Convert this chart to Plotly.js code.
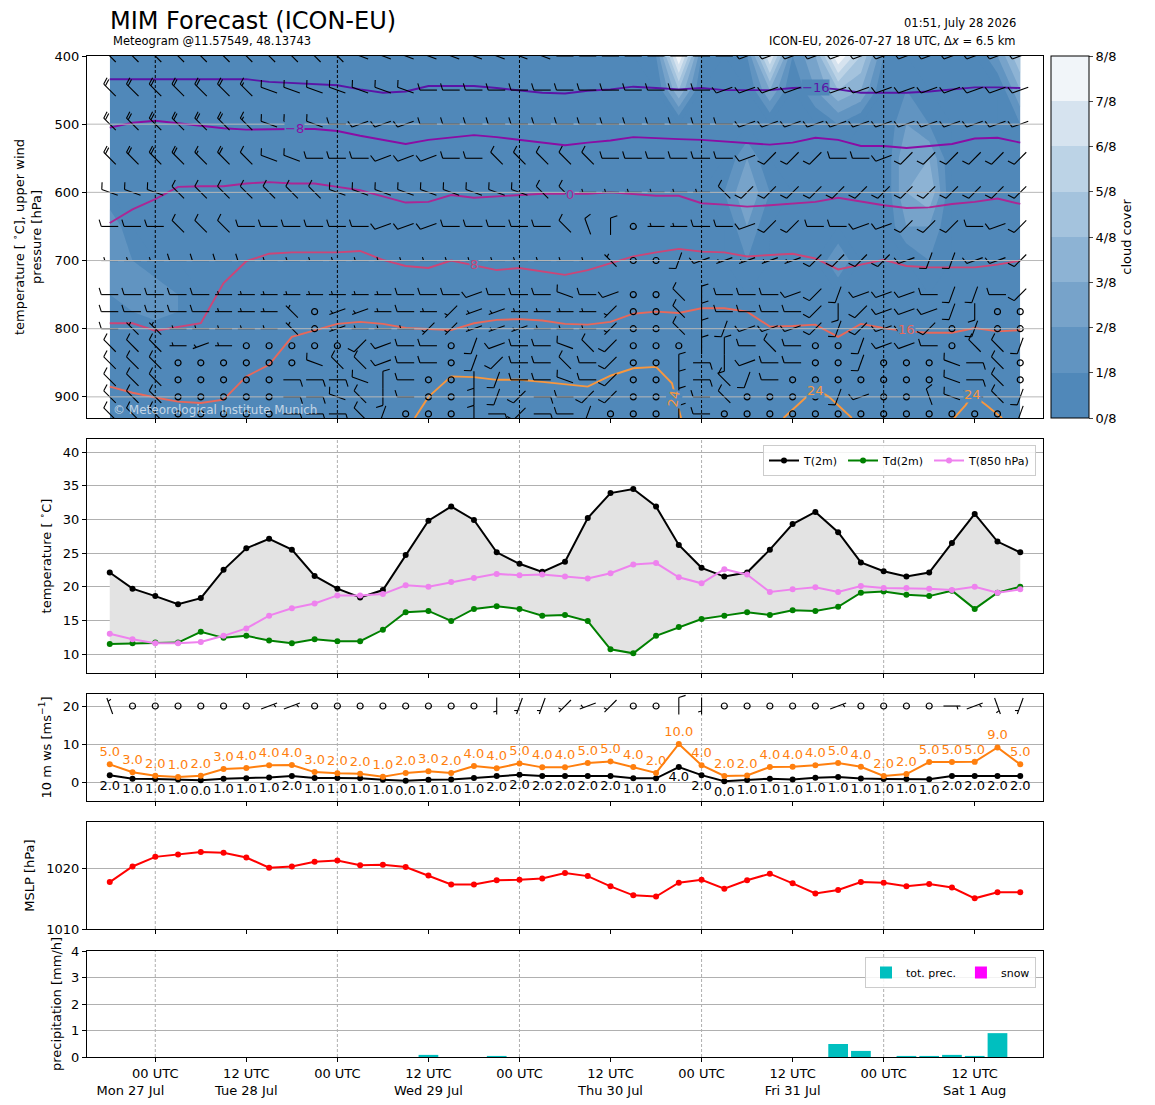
<!DOCTYPE html>
<html>
<head>
<meta charset="utf-8">
<script src="https://cdn.plot.ly/plotly-3.0.1.min.js"></script>
<style>body{margin:0;background:#fff}#chart{width:1155px;height:1105px}</style>
</head>
<body>
<div id="chart"></div>
<script>
// ---------------- DATA ----------------
const RUN_START = Date.UTC(2026, 6, 27, 18);   // first forecast step (ICON-EU 2026-07-27 18 UTC)
const STEP_MS = 3 * 3600 * 1000;                // 3-hourly output
const N_STEPS = 41;

// x tick positions / labels (every 12 h)
const tickTimes = ['2026-07-28 00:00','2026-07-28 12:00','2026-07-29 00:00','2026-07-29 12:00',
  '2026-07-30 00:00','2026-07-30 12:00','2026-07-31 00:00','2026-07-31 12:00','2026-08-01 00:00','2026-08-01 12:00'];
const tickText = ['00 UTC<br>Mon 27 Jul' + '\u00a0'.repeat(12),'12 UTC<br>Tue 28 Jul','00 UTC','12 UTC<br>Wed 29 Jul',
  '00 UTC','12 UTC<br>Thu 30 Jul','00 UTC','12 UTC<br>Fri 31 Jul','00 UTC','12 UTC<br>Sat 1 Aug'];
const dayStarts = ['2026-07-28 00:00','2026-07-29 00:00','2026-07-30 00:00','2026-07-31 00:00','2026-08-01 00:00'];

// 2 m temperature, dew point, 850 hPa temperature [deg C]
const t2m  = [22.1,19.7,18.6,17.4,18.3,22.5,25.7,27.1,25.5,21.6,19.7,18.4,19.5,24.7,29.8,31.9,29.9,25.1,23.4,22.2,
              23.7,30.2,33.9,34.5,31.9,26.2,22.8,21.5,22.1,25.5,29.3,31.1,28.1,23.6,22.3,21.5,22.1,26.5,30.8,26.7,25.1];
const td2m = [11.5,11.6,11.7,11.7,13.3,12.4,12.7,12.0,11.6,12.2,11.9,11.9,13.6,16.2,16.4,14.9,16.7,17.1,16.7,15.7,
              15.8,14.9,10.7,10.1,12.7,14.0,15.2,15.7,16.2,15.8,16.5,16.4,17.0,19.1,19.3,18.8,18.6,19.4,16.7,19.1,20.0];
const t850 = [13.0,12.2,11.6,11.6,11.8,12.7,13.8,15.7,16.8,17.5,18.7,18.7,18.9,20.2,20.0,20.7,21.3,21.9,21.7,21.8,
              21.5,21.2,22.0,23.3,23.5,21.4,20.5,22.6,21.8,19.2,19.6,19.9,19.2,20.1,19.8,19.8,19.7,19.5,20.0,19.1,19.6];

// 10 m wind: gusts and mean speed [m/s]
const gust10 = [4.65,2.55,1.67,1.3,1.67,3.4,3.7,4.4,4.45,2.6,2.3,2.2,1.4,2.4,2.8,2.4,4.2,3.6,4.9,3.85,
                3.85,5.0,5.4,3.95,2.4,10.0,4.4,1.6,1.7,3.95,4.0,4.4,5.0,4.0,1.6,2.1,5.25,5.25,5.3,9.1,4.65];
const ws10   = [1.75,0.88,0.8,0.65,0.45,0.88,0.97,1.2,1.6,1.05,1.05,0.97,0.6,0.3,0.6,0.65,1.05,1.55,1.9,1.6,
                1.6,1.6,1.6,0.97,0.97,3.95,1.8,0.2,0.55,0.88,0.65,1.1,1.3,0.9,0.8,0.8,0.7,1.6,1.6,1.6,1.6];
// 10 m wind direction code per step (o = calm) and barb class (1 half, 2 full ...)
const dir10 = "hoooooojjo"+"oooooooSgg"+"cecooNSooo"+"oojooooEjk"+"g";
const spd10 = "1111111111"+"1111111111"+"1111121111"+"1111111111"+"1";

// mean sea level pressure [hPa]
const mslp = [1017.8,1020.4,1022.0,1022.4,1022.8,1022.7,1021.9,1020.2,1020.4,1021.2,1021.4,1020.6,1020.7,1020.3,
              1018.9,1017.4,1017.4,1018.1,1018.2,1018.4,1019.3,1018.8,1017.1,1015.6,1015.4,1017.7,1018.2,1016.7,
              1018.1,1019.2,1017.6,1015.9,1016.5,1017.8,1017.7,1017.1,1017.5,1016.9,1015.1,1016.1,1016.1];

// precipitation [mm/h]
const precip = [0,0,0,0,0,0,0,0,0,0, 0,0,0,0,0.08,0,0,0.04,0,0, 0,0,0,0,0,0,0,0,0,0,
                0,0,0.49,0.23,0,0.04,0.04,0.08,0.04,0.9, 0];
const snow   = [0,0,0,0,0,0,0,0,0,0, 0,0,0,0,0,0,0,0,0,0, 0,0,0,0,0,0,0,0,0,0,
                0,0,0,0,0,0,0,0,0,0, 0];

// upper-air wind barbs: pressure levels, direction codes (o = calm), barb classes
const barbLevels = [400,450,500,550,600,650,700,750,775,800,825,850,875,900,925];
const barbDirs = [
  "dddddddddd"+"dfffffffff"+"WWWWWWWWee"+"eeeeeeeeee"+"e",
  "dddddddfff"+"ffffWWWWWW"+"WWWWWWWeee"+"eeeeeeeeee"+"e",
  "dddddddfff"+"WeeeWWWWWW"+"WWWWWWWWee"+"eeeeeeeeee"+"e",
  "dddddddffW"+"WWeeeWWddd"+"ddWWWWWWec"+"ccWWeccccc"+"c",
  "fffddddddd"+"fffffffffd"+"dWWWWWWdcc"+"cccccccccc"+"c",
  "WWWdddWWWW"+"WWeeeWWWWW"+"dhNoWWWWec"+"cWWeecccWe"+"c",
  "WWWWWWWWWW"+"WWWWWWWWWW"+"WWdoogeeee"+"ecccceggee"+"c",
  "WWWWWWWWWW"+"WWWWWWeWWW"+"fWeoodNWWW"+"ecgeeeWggW"+"c",
  "WWWWWWWWdo"+"eeWWWceeWW"+"WWcoodNWWW"+"WcSceeegSo"+"o",
  "WddWWWWWdo"+"eWWWcceeeW"+"WWcoodNgee"+"ecgceecogo"+"o",
  "dddWeWoooo"+"oceWWogeWW"+"fdcoooNNWd"+"WoogeeWodd"+"g",
  "dddoooooof"+"ddeWWogcWW"+"dWcooNESeW"+"WoogooofEd"+"o",
  "dddoooooEE"+"EfNWooSgWW"+"fWcooNEdgW"+"ooooooofEd"+"o",
  "dddoooooEE"+"fdSWooSgcE"+"WccooNWdoo"+"oogeoohfWd"+"g",
  "dddoooooEE"+"EdgoooSEcE"+"WgoooNWooo"+"oooooooooo"+"g"
];
const barbSpeeds = [
  "4444444444"+"4222222222"+"2222222222"+"2222222222"+"2",
  "4444443222"+"2222222222"+"2222222222"+"2222222222"+"2",
  "4444443222"+"2222222222"+"2222222222"+"2222222222"+"2",
  "4444342222"+"2222222222"+"2222222222"+"2222222222"+"2",
  "2222222222"+"2222222222"+"2111111222"+"2222222222"+"2",
  "2222222222"+"2222222222"+"2222112222"+"2222222222"+"2",
  "1112222111"+"1111111111"+"1110022111"+"1222222222"+"2",
  "2222211111"+"1112222222"+"2220022222"+"2222222222"+"2",
  "2222211110"+"1112111111"+"1110022222"+"2222222220"+"0",
  "2111111110"+"1111111111"+"1110022222"+"2222222222"+"2",
  "2221112222"+"2222222222"+"2222222222"+"2222222222"+"2",
  "2222222222"+"2222222222"+"2222222222"+"2222222222"+"2",
  "2222222222"+"2222222222"+"2222222222"+"2222222222"+"2",
  "2222222222"+"2222222222"+"2222222222"+"2222222222"+"2",
  "2222222222"+"2222222222"+"2222222222"+"2222222222"+"2"
];
const dirDegrees = {N:0,l:20,a:45,j:70,E:90,i:110,b:135,k:160,S:180,g:200,c:225,e:250,W:270,f:290,d:315,h:340};

// cloud cover in eighths (one string per level, one digit per time step)
const cloudLevels = [400,450,500,550,600,650,700,750,775,800,825,850,875,900,925,950];
const cloudRows = [
  "0000000000"+"0000000000"+"0000181017"+"1385100002"+"5",
  "0000000000"+"0000000000"+"0000040003"+"0243010000"+"3",
  "0000000000"+"0000000000"+"0000000000"+"0010021000"+"1",
  "0000000000"+"0000000000"+"0000000020"+"0000033000"+"0",
  "0000000000"+"0000000000"+"0000000131"+"0000034000"+"0",
  "2000000000"+"0000000000"+"0000000020"+"0000022000"+"0",
  "2100000000"+"0000000000"+"0000000010"+"0020001000"+"0",
  "1221000000"+"0000000000"+"0000000000"+"0000000000"+"0",
  "0121100000"+"0000000000"+"0000000000"+"0000000000"+"0",
  "0000000000"+"0000000000"+"0000000000"+"0000000000"+"0",
  "0000000000"+"0000000000"+"0000000000"+"0000000000"+"0",
  "0000000000"+"0000000000"+"0000000000"+"0000000000"+"0",
  "0000000000"+"0000000000"+"0000000000"+"0000000000"+"0",
  "0000000000"+"0000000000"+"0000000000"+"0000000000"+"0",
  "0000000000"+"0000000000"+"0000000000"+"0000000000"+"0",
  "0000000000"+"0000000000"+"0000000000"+"0000000000"+"0"
];
const cloudTickText = ['0/8','1/8','2/8','3/8','4/8','5/8','6/8','7/8','8/8'];

// isotherms: pressure [hPa] of each isotherm at every time step
const isoValues = [-16, -8, 0, 8, 16, 24];
const isoM16 = [434,434,434,434,434,434,434,438,440,441,443,449,454,452,444,444,444,447,451,454,
                455,451,449,445,447,449,447,450,450,450,447,446,449,454,454,454,452,449,446,446,447];
const isoM8  = [505,498,495,499,503,506,508,507,507,507,510,517,523,529,523,519,516,519,523,527,
                531,527,524,519,521,522,523,525,528,530,527,520,523,532,532,535,532,529,521,520,527];
const iso0   = [645,625,610,592,591,591,587,585,587,587,592,597,606,615,614,604,608,606,605,602,
                602,602,600,602,605,605,616,618,621,619,616,614,608,614,619,623,622,617,614,609,617];
const iso8   = [792,792,803,797,792,733,701,690,688,688,688,686,699,708,711,700,707,714,711,716,
                721,714,704,694,688,683,687,688,694,692,690,697,713,706,699,708,710,710,710,706,700];
const iso16  = [885,894,901,907,909,904,870,853,812,803,793,790,793,799,801,802,792,787,786,788,
                793,794,790,778,775,777,770,770,775,797,796,794,812,793,799,804,806,806,799,804,802];
// 24 degC isotherm: three separate pieces (hours after run start / pressure)
const iso24Hours = [40.2,42,45,48,51,54,57,60,63,66,69,72,74.1,75.3,null,88.8,91.5,93.0,94.8,97.8,null,111.3,112.8,113.7,115.5,117.6];
const iso24P     = [931,900,870,871,875,875,878,882,885,869,858,856,880,931,null,931,904,888,900,931,null,931,912,897,912,931];

// ---------------- STYLE / LAYOUT GEOMETRY ----------------
const FIG_W = 1155, FIG_H = 1105;
const M = {l: 87, r: 112, t: 56, b: 48};
const plotW = FIG_W - M.l - M.r, plotH = FIG_H - M.t - M.b;
const panelTop = [56, 439, 694, 822, 951];
const panelBot = [418, 673, 801, 929, 1057];
const dom = i => [(FIG_H - M.b - panelBot[i]) / plotH, (FIG_H - M.b - panelTop[i]) / plotH];
const pxX = px => (px - M.l) / plotW;
const pxY = py => (FIG_H - M.b - py) / plotH;

const isoColors = ['#5b14a6', '#8a0da4', '#ac2694', '#cc4577', '#e8685a', '#f8973e'];
const CLOUD_COLORS = ['#5088b9','#6194c1','#77a3ca','#8db3d4','#a4c3dd','#bcd3e6','#d6e3ef','#f1f5f9'];
const PANEL_BG = CLOUD_COLORS[0];

const times = [];
for (let i = 0; i < N_STEPS; i++) times.push(RUN_START + i * STEP_MS);
const hToMs = h => RUN_START + h * 3600 * 1000;
const xRange = [times[0] - STEP_MS, times[N_STEPS - 1] + STEP_MS];

const topRange = [931, 400];
const tRange = [7.18, 41.93];
const wRange = [-5, 23.16];
const pRange = [1010, 1027.8];
const rRange = [0, 4];

// ---------------- WIND BARB GEOMETRY (screen-pixel based) ----------------
const msPerPx = (xRange[1] - xRange[0]) / plotW;
const topPerPxDown = (topRange[0] - topRange[1]) / (panelBot[0] - panelTop[0]);
const windPerPxDown = -(wRange[1] - wRange[0]) / (panelBot[2] - panelTop[2]);
const BARB_L = 17;

function addBarb(xs, ys, cx, cy, dirCh, spdCh, yPerPxDown) {
  const r = dirDegrees[dirCh] * Math.PI / 180;
  const ux = Math.sin(r), uy = -Math.cos(r);   // toward wind source, screen coords
  const qx = -uy, qy = ux;                     // clockwise side for feathers
  const pt = (sx, sy) => { xs.push(cx + sx * msPerPx); ys.push(cy + sy * yPerPxDown); };
  const seg = (a, b) => { pt(a[0], a[1]); pt(b[0], b[1]); xs.push(null); ys.push(null); };
  const L = BARB_L;
  const tip = [ux * L / 2, uy * L / 2];
  seg([-ux * L / 2, -uy * L / 2], tip);
  const spd = parseInt(spdCh, 10) || 0;
  const nFull = Math.floor(spd / 2), half = spd % 2;
  const Hf = 0.4 * L, Wf = 0.25 * L, Sp = 0.14 * L;
  let pos = 0;
  for (let k = 0; k < nFull; k++) {
    const s = [tip[0] - ux * pos, tip[1] - uy * pos];
    seg(s, [s[0] + qx * Hf + ux * Wf / 2, s[1] + qy * Hf + uy * Wf / 2]);
    pos += Sp;
  }
  if (half) {
    if (nFull === 0) pos = 1.5 * Sp;
    const s = [tip[0] - ux * pos, tip[1] - uy * pos];
    seg(s, [s[0] + qx * Hf / 2 + ux * Wf / 4, s[1] + qy * Hf / 2 + uy * Wf / 4]);
  }
}

const topBarbX = [], topBarbY = [], topCalmX = [], topCalmY = [];
barbLevels.forEach((p, li) => {
  const ds = barbDirs[li], ss = barbSpeeds[li];
  for (let i = 0; i < N_STEPS; i++) {
    const ch = ds[i];
    if (!ch) continue;
    if (ch === 'o') { topCalmX.push(times[i]); topCalmY.push(p); }
    else addBarb(topBarbX, topBarbY, times[i], p, ch, ss[i], topPerPxDown);
  }
});
const BARB_Y10 = 20;
const wBarbX = [], wBarbY = [], wCalmX = [], wCalmY = [];
for (let i = 0; i < N_STEPS; i++) {
  const ch = dir10[i];
  if (ch === 'o') { wCalmX.push(times[i]); wCalmY.push(BARB_Y10); }
  else addBarb(wBarbX, wBarbY, times[i], BARB_Y10, ch, spd10[i], windPerPxDown);
}

// ---------------- TRACES ----------------
const cloudZ = cloudRows.map(s => s.split('').map(Number));
const contourScale = [[0, CLOUD_COLORS[0]]];
CLOUD_COLORS.forEach((c, k) => contourScale.push([(k + 1) / 9, c]));
contourScale.push([1, CLOUD_COLORS[7]]);
const stepScale = [];
CLOUD_COLORS.forEach((c, k) => { stepScale.push([k / 8, c]); stepScale.push([(k + 1) / 8, c]); });

const traces = [];
traces.push({
  type: 'contour', x: times, y: cloudLevels, z: cloudZ, xaxis: 'x', yaxis: 'y',
  autocontour: false, contours: {start: 0, end: 8, size: 1, coloring: 'fill', showlines: false},
  line: {width: 0, smoothing: 0}, colorscale: contourScale, showscale: false, hoverinfo: 'skip', showlegend: false
});
traces.push({
  type: 'scatter', mode: 'markers', x: [times[0]], y: [400], xaxis: 'x', yaxis: 'y', hoverinfo: 'skip', showlegend: false,
  marker: {size: 1, opacity: 0, color: [0], cmin: 0, cmax: 8, colorscale: stepScale, showscale: true,
    colorbar: {x: pxX(1051), xanchor: 'left', y: 1, yanchor: 'top', len: (panelBot[0] - panelTop[0]) / plotH, lenmode: 'fraction',
      thickness: 38, thicknessmode: 'pixels', outlinewidth: 1, outlinecolor: '#000', xpad: 0, ypad: 0,
      tickmode: 'array', tickvals: [0,1,2,3,4,5,6,7,8], ticktext: cloudTickText, ticks: 'outside', ticklen: 4,
      tickfont: {size: 13, color: '#000'}, title: {text: 'cloud cover', side: 'right', font: {size: 13, color: '#000'}}}}
});
[isoM16, isoM8, iso0, iso8, iso16].forEach((arr, k) => {
  traces.push({type: 'scatter', mode: 'lines', x: times, y: arr, xaxis: 'x', yaxis: 'y',
    line: {color: isoColors[k], width: 1.9}, hoverinfo: 'skip', showlegend: false});
});
traces.push({type: 'scatter', mode: 'lines', x: iso24Hours.map(h => h === null ? null : hToMs(h)), y: iso24P,
  xaxis: 'x', yaxis: 'y', line: {color: isoColors[5], width: 1.9}, hoverinfo: 'skip', showlegend: false, connectgaps: false});
traces.push({type: 'scatter', mode: 'lines', x: topBarbX, y: topBarbY, xaxis: 'x', yaxis: 'y',
  line: {color: '#000', width: 1.1}, hoverinfo: 'skip', showlegend: false, connectgaps: false});
traces.push({type: 'scatter', mode: 'markers', x: topCalmX, y: topCalmY, xaxis: 'x', yaxis: 'y',
  marker: {symbol: 'circle-open', size: 6, color: '#000', line: {width: 1.2}}, hoverinfo: 'skip', showlegend: false});

// temperature panel
traces.push({type: 'scatter', mode: 'lines', x: times, y: td2m, xaxis: 'x2', yaxis: 'y2', line: {width: 0},
  hoverinfo: 'skip', showlegend: false});
traces.push({type: 'scatter', mode: 'lines', x: times, y: t2m, xaxis: 'x2', yaxis: 'y2', line: {width: 0},
  fill: 'tonexty', fillcolor: '#e3e3e3', hoverinfo: 'skip', showlegend: false});
const tSeries = [[t2m, '#000000', 'T(2m)'], [td2m, '#008000', 'Td(2m)'], [t850, '#ee82ee', 'T(850 hPa)']];
tSeries.forEach(([arr, col, name]) => traces.push({
  type: 'scatter', mode: 'lines+markers', x: times, y: arr, xaxis: 'x2', yaxis: 'y2', name: name, legend: 'legend',
  line: {color: col, width: 2}, marker: {color: col, size: 6}, hoverinfo: 'skip'}));

// wind panel
traces.push({type: 'scatter', mode: 'lines+markers+text', x: times, y: ws10, xaxis: 'x3', yaxis: 'y3',
  text: ws10.map(v => Math.round(v).toFixed(1)), textposition: 'bottom center',
  textfont: {size: 13, color: '#000'}, line: {color: '#000', width: 2}, marker: {color: '#000', size: 6},
  hoverinfo: 'skip', showlegend: false, cliponaxis: false});
traces.push({type: 'scatter', mode: 'lines+markers+text', x: times, y: gust10, xaxis: 'x3', yaxis: 'y3',
  text: gust10.map(v => Math.round(v).toFixed(1)), textposition: 'top center',
  textfont: {size: 13, color: '#ff7f0e'}, line: {color: '#ff7f0e', width: 2}, marker: {color: '#ff7f0e', size: 6},
  hoverinfo: 'skip', showlegend: false, cliponaxis: false});
traces.push({type: 'scatter', mode: 'lines', x: wBarbX, y: wBarbY, xaxis: 'x3', yaxis: 'y3',
  line: {color: '#000', width: 1.1}, hoverinfo: 'skip', showlegend: false, connectgaps: false});
traces.push({type: 'scatter', mode: 'markers', x: wCalmX, y: wCalmY, xaxis: 'x3', yaxis: 'y3',
  marker: {symbol: 'circle-open', size: 6, color: '#000', line: {width: 1.2}}, hoverinfo: 'skip', showlegend: false});

// MSLP panel
traces.push({type: 'scatter', mode: 'lines+markers', x: times, y: mslp, xaxis: 'x4', yaxis: 'y4',
  line: {color: '#ff0000', width: 2}, marker: {color: '#ff0000', size: 6}, hoverinfo: 'skip', showlegend: false});

// precipitation panel
traces.push({type: 'bar', x: times, y: precip, xaxis: 'x5', yaxis: 'y5', name: 'tot. prec.', legend: 'legend2',
  width: 2.6 * 3600 * 1000, marker: {color: '#00bfbf'}, hoverinfo: 'skip'});
traces.push({type: 'bar', x: times, y: snow, xaxis: 'x5', yaxis: 'y5', name: 'snow', legend: 'legend2',
  width: 2.6 * 3600 * 1000, marker: {color: '#ff00ff'}, hoverinfo: 'skip'});

// ---------------- LAYOUT ----------------
const axBase = {showline: true, linecolor: '#000', linewidth: 1, mirror: true, ticks: 'outside', ticklen: 4,
  tickcolor: '#000', zeroline: false, tickfont: {size: 13, color: '#000'}};
const layout = {
  width: FIG_W, height: FIG_H, margin: M, paper_bgcolor: '#fff', plot_bgcolor: '#fff',
  font: {family: 'DejaVu Sans, sans-serif', size: 13, color: '#000'},
  hovermode: false, barmode: 'overlay', showlegend: true,
  title: {text: 'MIM Forecast (ICON-EU)', font: {size: 24, color: '#000'}, xref: 'container', yref: 'container',
    x: 110 / FIG_W, xanchor: 'left', y: 1 - 21 / FIG_H, yanchor: 'middle'},
  legend: {x: pxX(1036), xanchor: 'right', y: pxY(445), yanchor: 'top', orientation: 'h', traceorder: 'normal',
    bgcolor: 'rgba(255,255,255,0.85)', bordercolor: '#cccccc', borderwidth: 1, font: {size: 11}, itemwidth: 30},
  legend2: {x: pxX(1036), xanchor: 'right', y: pxY(957), yanchor: 'top', orientation: 'h', traceorder: 'normal',
    bgcolor: 'rgba(255,255,255,0.85)', bordercolor: '#cccccc', borderwidth: 1, font: {size: 11}, itemwidth: 30},
  annotations: [], shapes: []
};
for (let i = 1; i <= 5; i++) {
  const xs = i === 1 ? 'xaxis' : 'xaxis' + i;
  layout[xs] = Object.assign({}, axBase, {type: 'date', range: xRange, domain: [0, 1], anchor: i === 1 ? 'y' : 'y' + i,
    tickmode: 'array', tickvals: tickTimes, ticktext: tickText, tickangle: 0, showticklabels: i === 5, showgrid: false});
}
const ttl = (t, so) => ({text: t, standoff: so, font: {size: 13, color: '#000'}});
layout.yaxis  = Object.assign({}, axBase, {domain: dom(0), range: topRange, anchor: 'x', tickmode: 'array',
  tickvals: [400,500,600,700,800,900], showgrid: false,
  title: ttl('temperature [ <sup>∘</sup>C], upper wind<br>pressure [hPa]', 10)});
layout.yaxis2 = Object.assign({}, axBase, {domain: dom(1), range: tRange, anchor: 'x2', tickmode: 'array',
  tickvals: [10,15,20,25,30,35,40], showgrid: true, gridcolor: '#b0b0b0', gridwidth: 1, title: ttl('temperature [ <sup>∘</sup>C]', 8)});
layout.yaxis3 = Object.assign({}, axBase, {domain: dom(2), range: wRange, anchor: 'x3', tickmode: 'array',
  tickvals: [0,10,20], showgrid: true, gridcolor: '#b0b0b0', gridwidth: 1, title: ttl('10 m ws [ms<sup>−1</sup>]', 8)});
layout.yaxis4 = Object.assign({}, axBase, {domain: dom(3), range: pRange, anchor: 'x4', tickmode: 'array',
  tickvals: [1010,1020], showgrid: true, gridcolor: '#b0b0b0', gridwidth: 1, title: ttl('MSLP [hPa]', 8)});
layout.yaxis5 = Object.assign({}, axBase, {domain: dom(4), range: rRange, anchor: 'x5', tickmode: 'array',
  tickvals: [0,1,2,3,4], showgrid: true, gridcolor: '#b0b0b0', gridwidth: 1, title: ttl('precipitation [mm/h]', 6)});

// vertical day lines
for (let i = 1; i <= 5; i++) {
  dayStarts.forEach(d => layout.shapes.push({type: 'line', xref: i === 1 ? 'x' : 'x' + i, yref: (i === 1 ? 'y' : 'y' + i) + ' domain',
    x0: d, x1: d, y0: 0, y1: 1, layer: i === 1 ? 'above' : 'below',
    line: i === 1 ? {color: '#000', width: 1, dash: '3px,2px'} : {color: '#9a9a9a', width: 0.8, dash: '3px,2px'}}));
}
// grid lines above the cloud field in the top panel
layout.yaxis.tickvals.slice(1).forEach(p => layout.shapes.push({type: 'line', xref: 'x domain', yref: 'y',
  x0: 0, x1: 1, y0: p, y1: p, layer: 'above', line: {color: '#b8b8b8', width: 1}}));

// texts
layout.annotations.push(
  {xref: 'paper', yref: 'paper', x: pxX(111), y: pxY(41), xanchor: 'left', yanchor: 'middle', showarrow: false,
   text: 'Meteogram @11.57549, 48.13743', font: {size: 11.5, color: '#000'}},
  {xref: 'paper', yref: 'paper', x: pxX(1018), y: pxY(23), xanchor: 'right', yanchor: 'middle', showarrow: false,
   text: '01:51, July 28 2026', font: {size: 11.5, color: '#000'}},
  {xref: 'paper', yref: 'paper', x: pxX(1018), y: pxY(41), xanchor: 'right', yanchor: 'middle', showarrow: false,
   text: 'ICON-EU, 2026-07-27 18 UTC, Δ<i>x</i> = 6.5 km', font: {size: 11.5, color: '#000'}},
  {xref: 'paper', yref: 'paper', x: pxX(111), y: pxY(410), xanchor: 'left', yanchor: 'middle', showarrow: false,
   text: '© Meteorological Institute Munich', font: {size: 12, color: 'rgba(235,240,246,0.75)'}}
);
const isoLabelSpots = [
  {v: -16, h: 93, p: 446}, {v: -8, h: 24.3, p: 506}, {v: 0, h: 60.6, p: 603}, {v: 8, h: 48, p: 706},
  {v: 16, h: 105, p: 801}, {v: 24, h: 93, p: 891}, {v: 24, h: 113.7, p: 897}, {v: 24, h: 74.4, p: 903, a: -80}
];
isoLabelSpots.forEach(s => {
  const k = isoValues.indexOf(s.v);
  layout.annotations.push({xref: 'x', yref: 'y', x: hToMs(s.h), y: s.p, showarrow: false,
    text: String(s.v).replace('-', '−'), textangle: s.a || 0, bgcolor: PANEL_BG, borderpad: 0,
    font: {size: 13, color: isoColors[k]}});
});

Plotly.newPlot('chart', traces, layout, {staticPlot: true, displayModeBar: false});
</script>
</body>
</html>
